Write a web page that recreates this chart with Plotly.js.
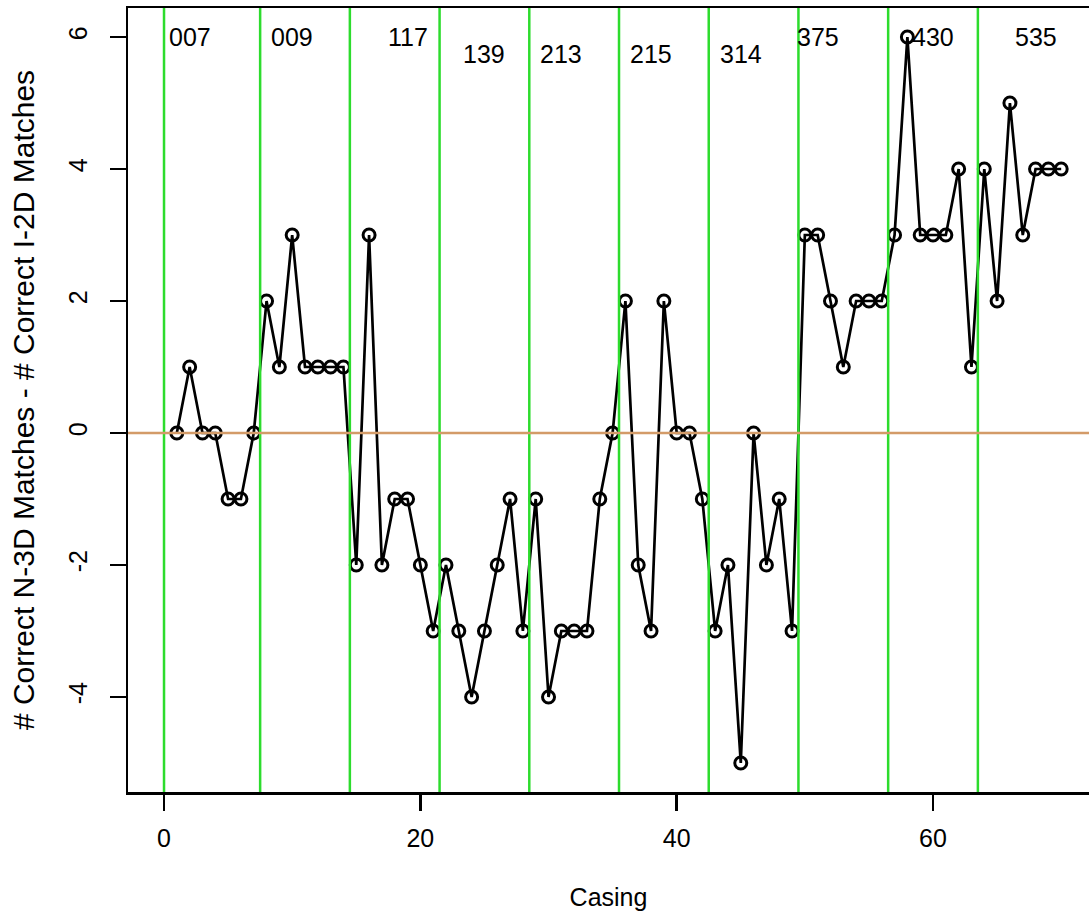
<!DOCTYPE html>
<html>
<head>
<meta charset="utf-8">
<script src="https://cdn.plot.ly/plotly-3.0.1.min.js"></script>
<style>
html,body{margin:0;padding:0;background:#fff;overflow:hidden;}
#chart{width:1089px;height:911px;}
</style>
</head>
<body>
<div id="chart"></div>
<script>
// Casing index
const casing = [];
for (let i = 1; i <= 70; i++) casing.push(i);
// Difference: # correct N-3D matches - # correct I-2D matches
const diffValues = [
  0, 1, 0, 0, -1, -1, 0,
  2, 1, 3, 1, 1, 1, 1,
  -2, 3, -2, -1, -1, -2, -3,
  -2, -3, -4, -3, -2, -1, -3,
  -1, -4, -3, -3, -3, -1, 0,
  2, -2, -3, 2, 0, 0, -1,
  -3, -2, -5, 0, -2, -1, -3,
  3, 3, 2, 1, 2, 2, 2,
  3, 6, 3, 3, 3, 4, 1,
  4, 2, 5, 3, 4, 4, 4
];
// Group boundaries (vertical lines)
const boundaries = [0, 7.5, 14.5, 21.5, 28.5, 35.5, 42.5, 49.5, 56.5, 63.5];
// Group labels
const groupLabels = ["007", "009", "117", "139", "213", "215", "314", "375", "430", "535"];
const labelX = [2, 10, 19, 25, 31, 38, 45, 51, 60, 68];
const labelY = [6, 6, 6, 5.75, 5.75, 5.75, 5.75, 6, 6, 6];
const xTicks = [0, 20, 40, 60];
const yTicks = [-4, -2, 0, 2, 4, 6];

const FONT = "Liberation Sans, Arial, Helvetica, sans-serif";
const FS = 25;

const trace = {
  x: casing,
  y: diffValues,
  type: "scatter",
  mode: "lines+markers",
  line: {color: "#000000", width: 2.7},
  marker: {symbol: "circle-open", size: 12, color: "#000000", line: {color: "#000000", width: 3}},
  cliponaxis: false,
  hoverinfo: "x+y"
};

const shapes = boundaries.map(b => ({
  type: "line", xref: "x", yref: "paper", x0: b, x1: b, y0: 0, y1: 1,
  line: {color: "#2ddc2d", width: 2.5}, layer: "above"
}));
shapes.push({
  type: "line", xref: "paper", yref: "y", x0: 0, x1: 1, y0: 0, y1: 0,
  line: {color: "#d39b68", width: 2.5}, layer: "above"
});

const annotations = groupLabels.map((t, i) => ({
  x: labelX[i], y: labelY[i], xref: "x", yref: "y", text: t, showarrow: false,
  xanchor: "center", yanchor: "middle", font: {family: FONT, size: FS, color: "#000"}
}));

const layout = {
  width: 1089, height: 911,
  margin: {l: 128, r: 0, t: 8, b: 119, pad: 0},
  paper_bgcolor: "#ffffff", plot_bgcolor: "#ffffff",
  font: {family: FONT, size: FS, color: "#000"},
  showlegend: false,
  xaxis: {
    range: [-2.81, 72.17], tickvals: xTicks, ticktext: xTicks.map(String),
    ticks: "outside", ticklen: 16, tickwidth: 2.5, tickcolor: "#000",
    showline: true, linecolor: "#000", linewidth: 2.5, mirror: true,
    showgrid: false, zeroline: false, ticklabelstandoff: 6,
    tickfont: {family: FONT, size: FS, color: "#000"},
    title: {text: "Casing", font: {family: FONT, size: FS, color: "#000"}, standoff: 46},
    automargin: false
  },
  yaxis: {
    range: [-5.44, 6.44], tickvals: yTicks, ticktext: yTicks.map(String),
    ticks: "outside", ticklen: 16, tickwidth: 2.5, tickcolor: "#000", tickangle: -90,
    showline: true, linecolor: "#000", linewidth: 2.5, mirror: false,
    showgrid: false, zeroline: false, ticklabelstandoff: 13,
    tickfont: {family: FONT, size: FS, color: "#000"},
    title: {text: "# Correct N-3D Matches - # Correct I-2D Matches", font: {family: FONT, size: 30, color: "#000"}, standoff: 20},
    automargin: false
  },
  shapes: shapes,
  annotations: annotations
};

Plotly.newPlot("chart", [trace], layout, {displayModeBar: false, staticPlot: true});
</script>
</body>
</html>
